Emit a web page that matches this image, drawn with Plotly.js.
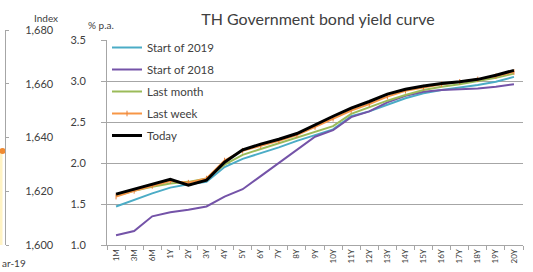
<!DOCTYPE html>
<html><head><meta charset="utf-8">
<script src="https://cdn.plot.ly/plotly-3.0.1.min.js"></script>
<style>html,body{margin:0;padding:0;background:#fff}#c{width:533px;height:272px}</style>
</head><body><div id="c"></div>
<script>
const tenors = ['1M','3M','6M','1Y','2Y','3Y','4Y','5Y','6Y','7Y','8Y','9Y','10Y','11Y','12Y','13Y','14Y','15Y','16Y','17Y','18Y','19Y','20Y'];
const start2019 = [1.47,1.55,1.63,1.70,1.74,1.77,1.95,2.05,2.12,2.19,2.27,2.34,2.41,2.57,2.63,2.71,2.79,2.85,2.89,2.92,2.95,2.99,3.05];
const start2018 = [1.12,1.17,1.35,1.40,1.43,1.47,1.59,1.68,1.84,2.00,2.17,2.32,2.40,2.56,2.63,2.74,2.82,2.87,2.89,2.90,2.91,2.93,2.96];
const lastMonth = [1.60,1.66,1.71,1.75,1.77,1.81,1.98,2.10,2.17,2.24,2.31,2.38,2.45,2.60,2.68,2.76,2.83,2.89,2.93,2.96,3.00,3.04,3.09];
const lastWeek  = [1.59,1.66,1.72,1.78,1.76,1.81,2.03,2.15,2.21,2.27,2.34,2.44,2.54,2.64,2.72,2.81,2.88,2.92,2.96,2.99,3.02,3.06,3.11];
const today     = [1.62,1.68,1.74,1.80,1.73,1.79,2.01,2.16,2.23,2.29,2.36,2.47,2.57,2.67,2.75,2.84,2.90,2.94,2.97,2.99,3.02,3.07,3.13];
// neighbouring (cropped) index chart on the left
const indexX = [-1, 0.5];
const indexY = [1635, 1635];
const indexTicks = [1600,1620,1640,1660,1680];
const indexTickText = ['1,600','1,620','1,640','1,660','1,680'];

const font = 'Lato, "Open Sans", sans-serif';
const W = 533, H = 272, T = 30, B = 27;
const ph = H - T - B;
function line(name, y, color, width, group, extra) {
  return Object.assign({type:'scatter', mode:'lines', x:tenors, y:y, name:name,
    line:{color:color, width:width}, legendgroup:group, xaxis:'x', yaxis:'y'}, extra||{});
}
const traces = [
  line('Start of 2019', start2019, '#4bacc6', 2, 'a'),
  line('Start of 2018', start2018, '#7453a8', 2, 'b'),
  line('Last month', lastMonth, '#9bbb59', 2, 'c'),
  line('Last week', lastWeek, '#f79646', 2, 'd', {mode:'lines+markers', marker:{symbol:'line-ns', size:4, line:{color:'#e8803a', width:1}}}),
  line('Today', today, '#000000', 3, 'e'),
  {type:'scatter', mode:'lines', x:indexX, y:indexY, xaxis:'x2', yaxis:'y2', showlegend:false,
   fill:'tozeroy', fillcolor:'#fff3c4', line:{color:'#f0dc90', width:1}},
  {type:'scatter', mode:'markers', x:[indexX[1]], y:[indexY[1]], xaxis:'x2', yaxis:'y2', showlegend:false,
   marker:{color:'#f08a30', size:6}}
];
const gray = '#a6a6a6';
const layout = {
  width:W, height:H, margin:{l:0, r:0, t:T, b:B}, paper_bgcolor:'#fff', plot_bgcolor:'rgba(0,0,0,0)',
  font:{family:font, color:'#404040', size:11},
  title:{text:'TH Government bond yield curve', font:{family:font, size:16, color:'#404040'},
    x:318/W, xanchor:'center', xref:'paper', y:1-19/H, yanchor:'middle', yref:'container'},
  xaxis:{domain:[107/W, 523/W], type:'category', range:[-0.5, tenors.length-0.5], showline:true, linecolor:gray, linewidth:1,
    ticks:'outside', tickson:'boundaries', ticklen:4, tickcolor:gray, tickangle:-90,
    tickfont:{size:8, color:'#404040'}, showgrid:false, fixedrange:true},
  yaxis:{domain:[0, 205/ph], range:[1.0, 3.5], dtick:0.5, tickformat:'.1f', showline:true, linecolor:gray,
    ticks:'outside', ticklen:5, tickcolor:gray, gridcolor:gray, gridwidth:1, zeroline:false,
    ticklabelstandoff:13, tickfont:{size:11, color:'#404040'}},
  xaxis2:{domain:[0, 5/W], range:[0,1], anchor:'y2', showticklabels:false, showgrid:false, zeroline:false, showline:false},
  yaxis2:{domain:[0,1], range:[1600,1680], anchor:'x2', side:'right', tickvals:indexTicks, ticktext:indexTickText,
    showline:true, linecolor:gray, ticks:'outside', ticklen:3, tickcolor:gray, showgrid:false, zeroline:false,
    ticklabelstandoff:14, tickfont:{size:11, color:'#404040'}},
  showlegend:true,
  legend:{x:107/W, xanchor:'left', y:(H-B-33)/ph, yanchor:'top', bgcolor:'rgba(255,255,255,0)',
    font:{size:11.5, color:'#404040', family:font}, tracegroupgap:3, traceorder:'grouped', itemwidth:30},
  annotations:[
    {text:'% p.a.', xref:'paper', yref:'paper', x:86/W, y:(H-B-17)/ph, showarrow:false, font:{size:10, color:'#404040'}},
    {text:'Index', xref:'paper', yref:'paper', x:32/W, y:(H-B-10)/ph, showarrow:false, font:{size:10, color:'#404040'}},
    {text:'ar-19', xref:'paper', yref:'paper', x:0, xanchor:'left', y:(H-B-263)/ph, yanchor:'middle', showarrow:false, font:{size:10, color:'#404040'}}
  ]
};
Plotly.newPlot('c', traces, layout, {staticPlot:true, displayModeBar:false});
</script></body></html>
